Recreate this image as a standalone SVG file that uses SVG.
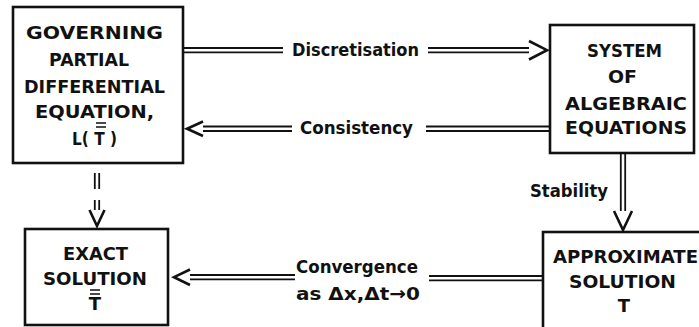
<svg xmlns="http://www.w3.org/2000/svg" width="699" height="327" viewBox="0 0 699 327">
<style>
.box{fill:#fff;stroke:#111;stroke-width:2.6}
.t{font-family:"DejaVu Sans","Liberation Sans",sans-serif;font-weight:bold;font-size:18px;fill:#111}
.sh{stroke:#111;stroke-width:1.8;fill:none}
.hd{stroke:#111;stroke-width:2.6;fill:#fff;stroke-linejoin:miter}
.bar{stroke:#111;stroke-width:1.6}
</style>
<rect width="699" height="327" fill="#fff"/>
<g id="connectors">
  <g id="c-discretisation">
    <path class="sh" d="M183,48 H283 M183,52.4 H283 M428,48 H536 M428,52.4 H536"/>
    <path class="hd" d="M529,41 L547,50.2 L529,59.5"/>
    <text class="t" x="292" y="56" textLength="127" lengthAdjust="spacingAndGlyphs">Discretisation</text>
  </g>
  <g id="c-consistency">
    <path class="sh" d="M198,126.5 H292 M198,131 H292 M426,126.5 H550 M426,131 H550"/>
    <path class="hd" d="M203,121.5 L187,128.7 L203,136"/>
    <text class="t" x="300" y="134" textLength="113" lengthAdjust="spacingAndGlyphs">Consistency</text>
  </g>
  <g id="c-stability">
    <path class="sh" d="M620.8,153 V220 M625.2,153 V220"/>
    <path class="hd" d="M614,211 L623,230 L632,211"/>
    <text class="t" x="530" y="197" textLength="78" lengthAdjust="spacingAndGlyphs">Stability</text>
  </g>
  <g id="c-equals">
    <path class="sh" d="M94.8,173 V189 M99.2,173 V189 M94.8,200 V216 M99.2,200 V216"/>
    <path class="hd" d="M89.5,210 L97,226 L104.5,210"/>
  </g>
  <g id="c-convergence">
    <path class="sh" d="M184,275 H295 M184,279.4 H295 M429,276 H543 M429,280.4 H543"/>
    <path class="hd" d="M190,269.5 L174,277.2 L190,285"/>
    <text class="t" x="296" y="273" textLength="122" lengthAdjust="spacingAndGlyphs">Convergence</text>
    <text class="t" x="296" y="300" textLength="124" lengthAdjust="spacingAndGlyphs">as  Δx,Δt→0</text>
  </g>
</g>
<g id="node-pde">
  <rect class="box" x="13" y="7" width="170" height="156"/>
  <text class="t" x="26" y="39" textLength="137" lengthAdjust="spacingAndGlyphs">GOVERNING</text>
  <text class="t" x="49" y="66" textLength="80" lengthAdjust="spacingAndGlyphs">PARTIAL</text>
  <text class="t" x="24" y="93" textLength="141" lengthAdjust="spacingAndGlyphs">DIFFERENTIAL</text>
  <text class="t" x="35" y="118" textLength="119" lengthAdjust="spacingAndGlyphs">EQUATION,</text>
  <text class="t" x="72" y="145" textLength="45" lengthAdjust="spacingAndGlyphs">L( T )</text>
  <path class="bar" d="M96,123 H106 M96,127 H106"/>
</g>
<g id="node-algebraic">
  <rect class="box" x="550" y="25" width="144" height="128"/>
  <text class="t" x="587" y="57" textLength="75" lengthAdjust="spacingAndGlyphs">SYSTEM</text>
  <text class="t" x="608" y="83" textLength="29" lengthAdjust="spacingAndGlyphs">OF</text>
  <text class="t" x="565" y="110" textLength="122" lengthAdjust="spacingAndGlyphs">ALGEBRAIC</text>
  <text class="t" x="565" y="134" textLength="122" lengthAdjust="spacingAndGlyphs">EQUATIONS</text>
</g>
<g id="node-exact">
  <rect class="box" x="25" y="229" width="143" height="96"/>
  <text class="t" x="63" y="260" textLength="65" lengthAdjust="spacingAndGlyphs">EXACT</text>
  <text class="t" x="43" y="285" textLength="104" lengthAdjust="spacingAndGlyphs">SOLUTION</text>
  <text class="t" x="95" y="310" text-anchor="middle">T</text>
  <path class="bar" d="M90,290 H100 M90,294 H100"/>
</g>
<g id="node-approx">
  <rect class="box" x="543" y="232" width="170" height="120"/>
  <text class="t" x="553" y="263" textLength="145" lengthAdjust="spacingAndGlyphs">APPROXIMATE</text>
  <text class="t" x="569" y="288" textLength="107" lengthAdjust="spacingAndGlyphs">SOLUTION</text>
  <text class="t" x="624" y="312" text-anchor="middle">T</text>
</g>
</svg>
